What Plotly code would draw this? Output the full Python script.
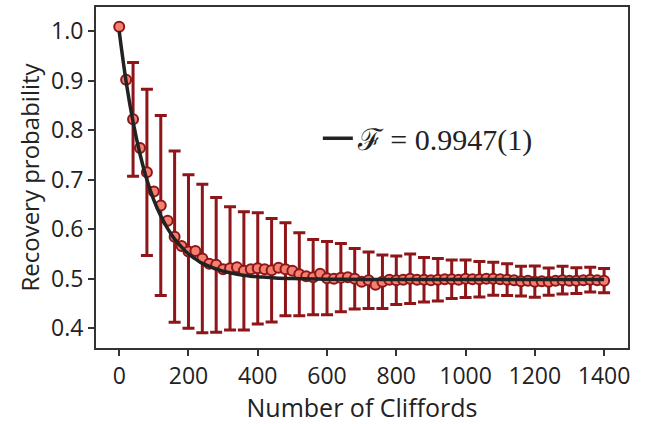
import plotly.graph_objects as go

# Measured recovery probability (points every 20 Cliffords)
cliffords = list(range(0, 1401, 20))
recovery = [
    1.009, 0.902, 0.822, 0.764, 0.715, 0.676, 0.648, 0.617, 0.585, 0.566,
    0.555, 0.556, 0.541, 0.530, 0.528, 0.519, 0.521, 0.523, 0.516, 0.519,
    0.521, 0.519, 0.517, 0.522, 0.519, 0.516, 0.509, 0.505, 0.503, 0.510,
    0.501, 0.500, 0.502, 0.503, 0.500, 0.494, 0.497, 0.488, 0.494, 0.498,
    0.497, 0.498, 0.500, 0.498, 0.498, 0.497, 0.498, 0.499, 0.499, 0.498,
    0.500, 0.499, 0.499, 0.500, 0.500, 0.499, 0.498, 0.497, 0.495, 0.496,
    0.494, 0.495, 0.494, 0.496, 0.497, 0.496, 0.496, 0.497, 0.498, 0.497,
    0.496,
]

# Error bars (shown every 40 Cliffords)
err_cliffords = list(range(40, 1401, 40))
err_sizes = [
    0.115, 0.168, 0.182, 0.173, 0.155, 0.150, 0.136, 0.1245, 0.1195, 0.1125,
    0.1045, 0.094, 0.084, 0.076, 0.074, 0.069, 0.061, 0.057, 0.054, 0.049,
    0.050, 0.045, 0.043, 0.039, 0.038, 0.036, 0.0335, 0.032, 0.030, 0.0315,
    0.0275, 0.028, 0.026, 0.025, 0.0245,
]

# Fitted decay curve
fit_x = list(range(0, 401, 20)) + [450, 500, 600, 700, 800, 1000, 1200, 1400]
fit_y = [
    1.000, 0.898, 0.817, 0.752, 0.700, 0.659, 0.627, 0.601, 0.580, 0.564,
    0.550, 0.540, 0.531, 0.525, 0.520, 0.515, 0.512, 0.509, 0.507, 0.505,
    0.504, 0.5015, 0.5002, 0.4991, 0.4986, 0.4985, 0.4985, 0.4985, 0.4985,
]
fit_label = "ℱ = 0.9947(1)"

x_ticks = [0, 200, 400, 600, 800, 1000, 1200, 1400]
y_ticks = [0.4, 0.5, 0.6, 0.7, 0.8, 0.9, 1.0]
y_tick_text = ["0.4", "0.5", "0.6", "0.7", "0.8", "0.9", "1.0"]

dark_red = "#8E1518"
salmon = "#F4806F"
ink = "#222222"

err_y = [recovery[cliffords.index(c)] for c in err_cliffords]

fig = go.Figure()
fig.add_trace(go.Scatter(
    x=err_cliffords, y=err_y, mode="markers",
    marker=dict(size=8, opacity=0),
    error_y=dict(type="data", array=err_sizes, visible=True,
                 color=dark_red, thickness=3, width=6),
    showlegend=False, hoverinfo="skip",
))
fig.add_trace(go.Scatter(
    x=cliffords, y=recovery, mode="markers",
    marker=dict(size=10, color=salmon, line=dict(color=dark_red, width=2)),
    showlegend=False,
))
fig.add_trace(go.Scatter(
    x=fit_x, y=fit_y, mode="lines", name=fit_label,
    line=dict(color=ink, width=3.5, shape="spline", smoothing=1.0),
))

axis_common = dict(
    showline=True, linecolor="#333333", linewidth=2, mirror=True,
    ticks="outside", ticklen=6, tickwidth=1.5, tickcolor="#333333",
    showgrid=False, zeroline=False,
    tickfont=dict(family="Open Sans", size=23, color=ink),
)

fig.update_layout(
    width=660, height=424,
    margin=dict(l=96, r=32, t=5, b=76),
    paper_bgcolor="white", plot_bgcolor="white",
    xaxis=dict(range=[-67, 1469], tickvals=x_ticks,
               title=dict(text="Number of Cliffords", standoff=5,
                          font=dict(family="Open Sans", size=25, color=ink)),
               **axis_common),
    yaxis=dict(range=[0.36, 1.049], tickvals=y_ticks, ticktext=y_tick_text,
               title=dict(text="Recovery probability", standoff=5,
                          font=dict(family="Open Sans", size=24, color=ink)),
               **axis_common),
    legend=dict(x=0.417, y=0.615, xanchor="left", yanchor="middle",
                bgcolor="rgba(0,0,0,0)",
                font=dict(family="Liberation Serif, DejaVu Serif", size=30, color=ink),
                itemwidth=30),
    showlegend=True,
)

fig.write_html("out.html")
